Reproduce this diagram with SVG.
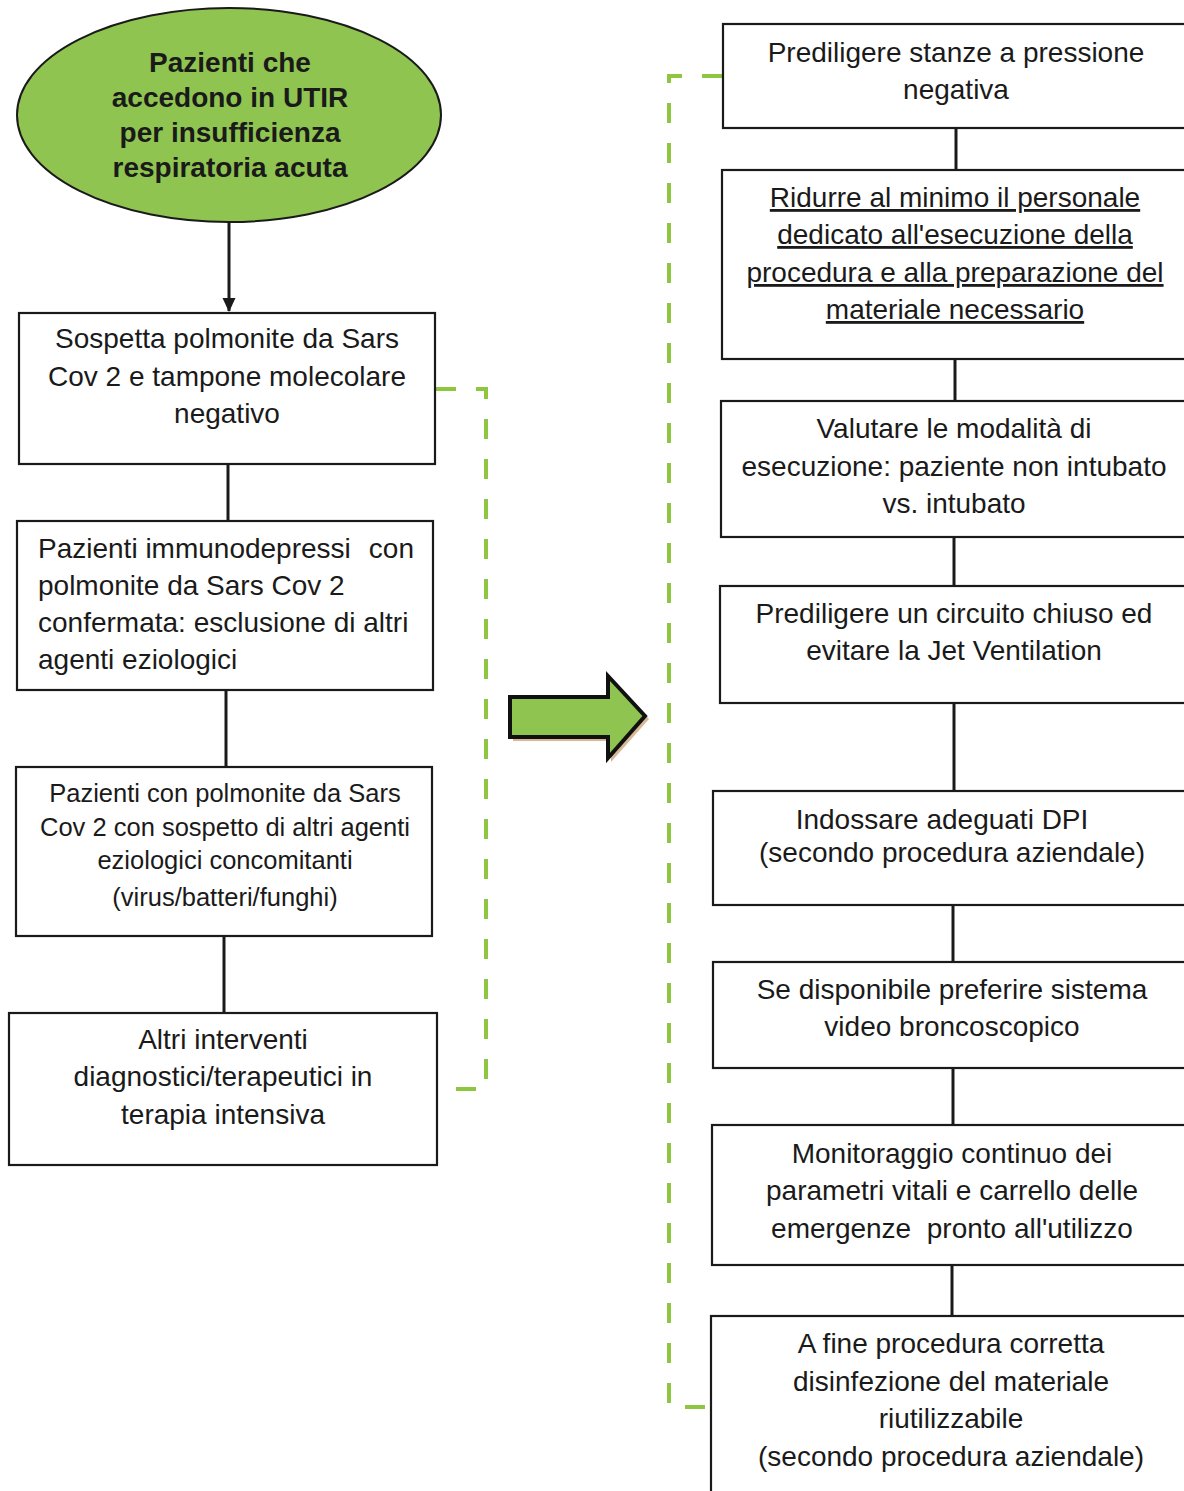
<svg xmlns="http://www.w3.org/2000/svg" width="1184" height="1491" viewBox="0 0 1184 1491">
<defs>
<style>
.box{fill:#fff;stroke:#1a1a1a;stroke-width:2.2}
.t{font-family:"Liberation Sans",Arial,sans-serif;font-size:28px;fill:#1a1a1a;text-anchor:middle}
.tl{text-anchor:start}
.te{text-anchor:end}
.s{font-size:25.5px}
.b{font-weight:bold;font-size:28px}
.u{text-decoration:underline}
.ln{stroke:#1a1a1a;stroke-width:3;fill:none}
.dash{stroke:#8fc640;stroke-width:4;fill:none;stroke-dasharray:20 20}
</style>
<marker id="ah" markerWidth="14" markerHeight="14" refX="13" refY="7" orient="auto" markerUnits="userSpaceOnUse">
<path d="M0,0.5 L14,7 L0,13.5 z" fill="#1a1a1a"/>
</marker>
</defs>
<rect width="1184" height="1491" fill="#fff"/>

<g id="connectors">
<line class="ln" x1="229" y1="222" x2="229" y2="311" marker-end="url(#ah)"/>
<line class="ln" x1="228" y1="464" x2="228" y2="521"/>
<line class="ln" x1="226" y1="690" x2="226" y2="767"/>
<line class="ln" x1="224" y1="936" x2="224" y2="1013"/>
<line class="ln" x1="956" y1="128" x2="956" y2="170"/>
<line class="ln" x1="955" y1="359" x2="955" y2="401"/>
<line class="ln" x1="954" y1="537" x2="954" y2="586"/>
<line class="ln" x1="954" y1="703" x2="954" y2="791"/>
<line class="ln" x1="953" y1="905" x2="953" y2="962"/>
<line class="ln" x1="953" y1="1068" x2="953" y2="1125"/>
<line class="ln" x1="952" y1="1265" x2="952" y2="1316"/>
<path class="dash" d="M436,389 H486 V1089 H447"/>
<path class="dash" d="M722,76 H669 V1407 H711"/>
</g>

<g id="big-arrow">
<path d="M513,701 H611 V679 L649,719 L611,762 V741 H513 Z" fill="#d9b896" stroke="none"/>
<path d="M510,697 H608 V676 L645,716 L608,758 V737 H510 Z" fill="#8fc451" stroke="#111" stroke-width="4" stroke-linejoin="miter"/>
</g>

<g id="start">
<ellipse cx="229" cy="115" rx="212" ry="107" fill="#8fc451" stroke="#1a1a1a" stroke-width="2"/>
<text class="t b"><tspan x="230" y="72">Pazienti che</tspan><tspan x="230" y="107">accedono in UTIR</tspan><tspan x="230" y="142">per insufficienza</tspan><tspan x="230" y="177">respiratoria acuta</tspan></text>
</g>

<g id="l1">
<rect class="box" x="19" y="313" width="416" height="151"/>
<text class="t"><tspan x="227" y="348">Sospetta polmonite da Sars</tspan><tspan x="227" y="386">Cov 2 e tampone molecolare</tspan><tspan x="227" y="423">negativo</tspan></text>
</g>

<g id="l2">
<rect class="box" x="17" y="521" width="416" height="169"/>
<text class="t tl"><tspan x="38" y="558">Pazienti immunodepressi</tspan><tspan x="38" y="595">polmonite da Sars Cov 2</tspan><tspan x="38" y="632">confermata: esclusione di altri</tspan><tspan x="38" y="669">agenti eziologici</tspan></text>
<text class="t te" x="414" y="558">con</text>
</g>

<g id="l3">
<rect class="box" x="16" y="767" width="416" height="169"/>
<text class="t s"><tspan x="225" y="802">Pazienti con polmonite da Sars</tspan><tspan x="225" y="836">Cov 2 con sospetto di altri agenti</tspan><tspan x="225" y="869">eziologici concomitanti</tspan><tspan x="225" y="906">(virus/batteri/funghi)</tspan></text>
</g>

<g id="l4">
<rect class="box" x="9" y="1013" width="428" height="152"/>
<text class="t"><tspan x="223" y="1049">Altri interventi</tspan><tspan x="223" y="1086">diagnostici/terapeutici in</tspan><tspan x="223" y="1124">terapia intensiva</tspan></text>
</g>

<g id="r1">
<rect class="box" x="723" y="24" width="470" height="104"/>
<text class="t"><tspan x="956" y="62">Prediligere stanze a pressione</tspan><tspan x="956" y="99">negativa</tspan></text>
</g>

<g id="r2">
<rect class="box" x="722" y="170" width="470" height="189"/>
<text class="t u"><tspan x="955" y="207">Ridurre al minimo il personale</tspan><tspan x="955" y="244">dedicato all'esecuzione della</tspan><tspan x="955" y="282">procedura e alla preparazione del</tspan><tspan x="955" y="319">materiale necessario</tspan></text>
</g>

<g id="r3">
<rect class="box" x="721" y="401" width="470" height="136"/>
<text class="t"><tspan x="954" y="438">Valutare le modalità di</tspan><tspan x="954" y="476">esecuzione: paziente non intubato</tspan><tspan x="954" y="513">vs. intubato</tspan></text>
</g>

<g id="r4">
<rect class="box" x="720" y="586" width="470" height="117"/>
<text class="t"><tspan x="954" y="623">Prediligere un circuito chiuso ed</tspan><tspan x="954" y="660">evitare la Jet Ventilation</tspan></text>
</g>

<g id="r5">
<rect class="box" x="713" y="791" width="480" height="114"/>
<text class="t"><tspan x="942" y="829">Indossare adeguati DPI</tspan><tspan x="952" y="862">(secondo procedura aziendale)</tspan></text>
</g>

<g id="r6">
<rect class="box" x="713" y="962" width="480" height="106"/>
<text class="t"><tspan x="952" y="999">Se disponibile preferire sistema</tspan><tspan x="952" y="1036">video broncoscopico</tspan></text>
</g>

<g id="r7">
<rect class="box" x="712" y="1125" width="480" height="140"/>
<text class="t"><tspan x="952" y="1163">Monitoraggio continuo dei</tspan><tspan x="952" y="1200">parametri vitali e carrello delle</tspan><tspan x="952" y="1238">emergenze&#160; pronto all'utilizzo</tspan></text>
</g>

<g id="r8">
<rect class="box" x="711" y="1316" width="480" height="200"/>
<text class="t"><tspan x="951" y="1353">A fine procedura corretta</tspan><tspan x="951" y="1391">disinfezione del materiale</tspan><tspan x="951" y="1428">riutilizzabile</tspan><tspan x="951" y="1466">(secondo procedura aziendale)</tspan></text>
</g>
</svg>
